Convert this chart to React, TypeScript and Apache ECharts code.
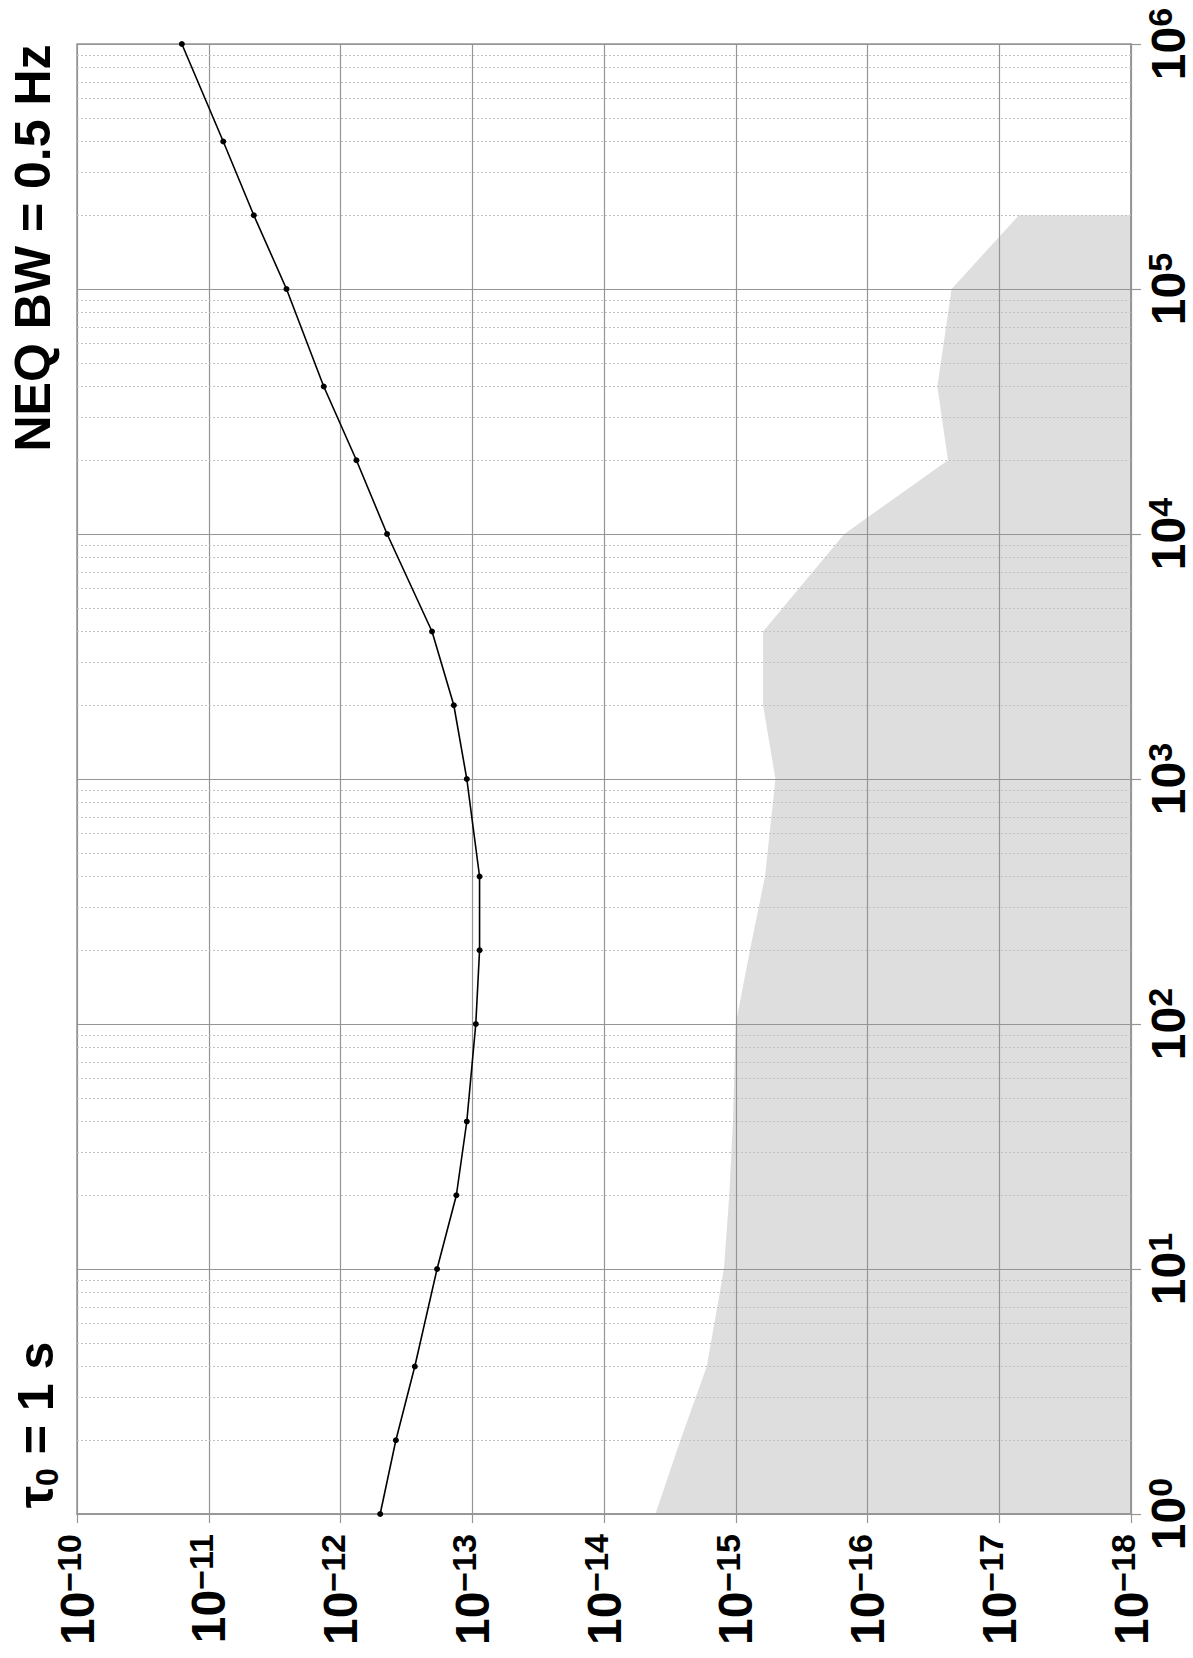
import React, { useEffect, useRef } from "react";
import * as echarts from "echarts";

// Averaging time tau (s) and Allan deviation of the measured curve
const tauValues = [1, 2, 4, 10, 20, 40, 100, 200, 400, 1000, 2000, 4000, 1e4, 2e4, 4e4, 1e5, 2e5, 4e5, 1e6];
const adevValues = [
  5.0e-13, 3.8e-13, 2.73e-13, 1.85e-13, 1.32e-13, 1.1e-13, 9.4e-14, 8.8e-14, 8.8e-14,
  1.1e-13, 1.38e-13, 2.02e-13, 4.43e-13, 7.57e-13, 1.34e-12, 2.57e-12, 4.55e-12, 7.76e-12, 1.6e-11,
];

// Shaded (noise floor) region boundary
const shadeTau = [1, 2, 4, 10, 20, 40, 100, 200, 400, 1000, 2000, 4000, 1e4, 2e4, 4e4, 1e5, 2e5];
const shadeAdev = [
  4.07e-15, 2.63e-15, 1.66e-15, 1.23e-15, 1.12e-15, 1.05e-15, 1.0e-15, 7.8e-16, 6.0e-16,
  5.0e-16, 6.2e-16, 6.2e-16, 1.5e-16, 2.45e-17, 2.95e-17, 2.3e-17, 7.1e-18,
];

// Axis ranges
const adevMin = 1e-18;
const adevMax = 1e-10;
const tauMin = 1;
const tauMax = 1e6;

// Minor (dotted) tau grid lines: 2..9 within each decade
const tauDecades = [1, 10, 100, 1000, 1e4, 1e5];
const minorMultipliers = [2, 3, 4, 5, 6, 7, 8, 9];

const titleText = "NEQ BW = 0.5 Hz";

const FONT = "'Liberation Sans', Arial, Helvetica, sans-serif";

function supLabel(v: number): string {
  const e = Math.round(Math.log10(v));
  return `{b|10}{e|${e < 0 ? "\u2212" : ""}${Math.abs(e)}}`;
}

export default function App() {
  const ref = useRef<HTMLDivElement>(null);

  useEffect(() => {
    if (!ref.current) return;
    const chart = echarts.init(ref.current, undefined, { renderer: "svg" });

    const minorTau: number[] = [];
    tauDecades.forEach((d) => minorMultipliers.forEach((m) => minorTau.push(d * m)));

    const lineData = tauValues.map((t, i) => [adevValues[i], t]);
    const shadeData = shadeTau.map((t, i) => [shadeAdev[i], t]);

    const rich = {
      b: { fontSize: 48, fontWeight: "bold", fontFamily: FONT, color: "#000", lineHeight: 50 },
      e: {
        fontSize: 34,
        fontWeight: "bold",
        fontFamily: FONT,
        color: "#000",
        lineHeight: 36,
        verticalAlign: "top",
      },
    };

    const gridColor = "#959595";

    const option: any = {
      animation: false,
      backgroundColor: "#fff",
      grid: {
        left: 77,
        top: 44,
        right: 62,
        bottom: 144,
        show: true,
        borderColor: gridColor,
        borderWidth: 1.5,
        containLabel: false,
      },
      xAxis: {
        type: "log",
        logBase: 10,
        min: adevMin,
        max: adevMax,
        inverse: true,
        position: "bottom",
        splitNumber: 8,
        axisLine: { show: true, lineStyle: { color: gridColor, width: 1.5 } },
        axisTick: { show: true, length: 9, lineStyle: { color: gridColor, width: 1.2 } },
        splitLine: { show: true, lineStyle: { color: gridColor, width: 1.2 } },
        axisLabel: {
          rotate: 90,
          margin: 20,
          interval: 0,
          showMinLabel: true,
          showMaxLabel: true,
          formatter: supLabel,
          rich,
        },
      },
      yAxis: {
        type: "log",
        logBase: 10,
        min: tauMin,
        max: tauMax,
        position: "right",
        splitNumber: 6,
        axisLine: { show: true, lineStyle: { color: gridColor, width: 1.5 } },
        axisTick: { show: true, length: 10, lineStyle: { color: gridColor, width: 1.2 } },
        splitLine: { show: true, lineStyle: { color: gridColor, width: 1.2 } },
        axisLabel: {
          rotate: 90,
          margin: 12,
          interval: 0,
          showMinLabel: true,
          showMaxLabel: true,
          formatter: supLabel,
          rich,
        },
      },
      graphic: [
        {
          type: "text",
          x: 33,
          y: 248,
          rotation: Math.PI / 2,
          style: {
            text: titleText,
            fontSize: 50,
            fontWeight: "bold",
            fontFamily: FONT,
            fill: "#000",
            align: "center",
            verticalAlign: "middle",
          },
        },
        {
          type: "text",
          x: 36,
          y: 1425,
          rotation: Math.PI / 2,
          style: {
            text: "{a|\u03c4}{s|0}{a| = 1 s}",
            align: "center",
            verticalAlign: "middle",
            rich: {
              a: { fontSize: 50, fontWeight: "bold", fontFamily: FONT, fill: "#000", lineHeight: 54 },
              s: {
                fontSize: 32,
                fontWeight: "bold",
                fontFamily: FONT,
                fill: "#000",
                lineHeight: 34,
                verticalAlign: "bottom",
              },
            },
          },
        },
      ],
      series: [
        {
          type: "custom",
          name: "floor",
          z: -1,
          silent: true,
          clip: true,
          data: shadeData,
          encode: { x: 0, y: 1 },
          renderItem: (params: any, api: any) => {
            if (params.dataIndex !== 0) return { type: "group", children: [] };
            const pts = shadeData.map((p) => api.coord(p));
            pts.push(api.coord([adevMin, shadeTau[shadeTau.length - 1]]));
            pts.push(api.coord([adevMin, shadeTau[0]]));
            return {
              type: "polygon",
              shape: { points: pts },
              style: { fill: "#dedede", stroke: "none" },
            };
          },
        },
        {
          type: "line",
          name: "minorGrid",
          data: [],
          silent: true,
          z: 1,
          markLine: {
            silent: true,
            symbol: ["none", "none"],
            label: { show: false },
            animation: false,
            lineStyle: { color: "#c2c2c2", type: [2, 2], width: 1 },
            data: minorTau.map((v) => ({ yAxis: v })),
          },
        },
        {
          type: "line",
          name: "ADEV",
          data: lineData,
          z: 5,
          symbol: "circle",
          symbolSize: 6,
          itemStyle: { color: "#000" },
          lineStyle: { color: "#000", width: 1.6 },
        },
      ],
    };

    chart.setOption(option);
    return () => chart.dispose();
  }, []);

  return (
    <div
      ref={ref}
      style={{ position: "absolute", left: 0, top: 0, width: 1193, height: 1658, background: "#fff" }}
    />
  );
}
